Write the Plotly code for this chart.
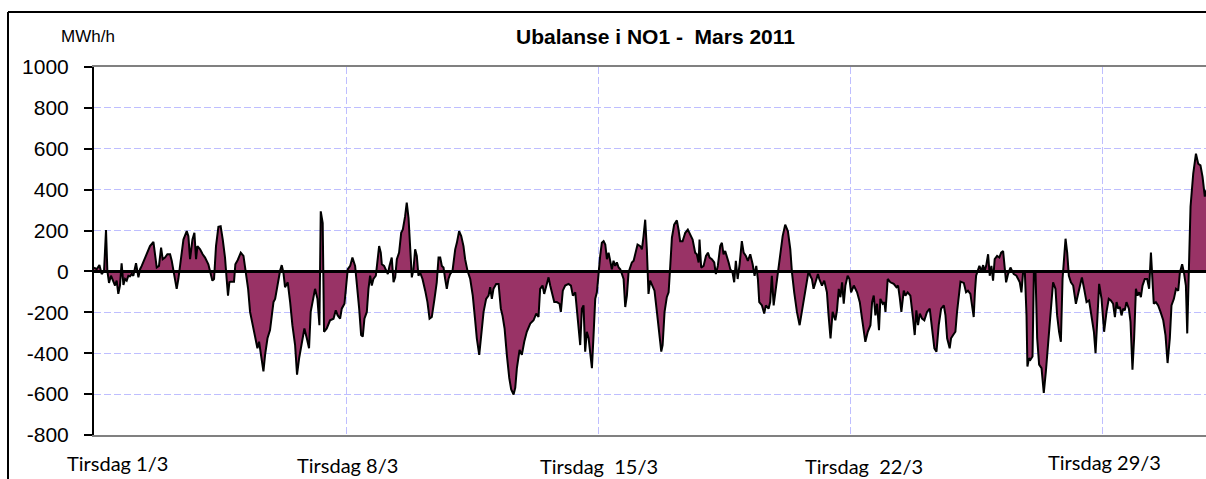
import plotly.graph_objects as go

# Hours since 1 March 2011 00:00 and imbalance values (MWh/h)
hours = [
0,1.8,3.6,5.1,6.7,8.0,8.9,10.0,11.3,12.9,14.0,15.1,16.2,17.3,18.4,19.6,20.7,21.8,22.9,24.0,
25.1,26.2,28.0,29.6,30.7,31.8,34.0,35.6,37.3,39.6,40.7,41.8,43.3,44.7,45.8,47.3,48.9,50.7,51.8,52.9,
54.0,55.1,56.2,57.8,59.6,61.8,62.9,64.0,65.6,66.9,68.0,68.9,70.7,72.4,74.0,76.2,77.8,78.9,80.0,81.3,
82.9,84.4,85.8,87.3,88.4,89.3,90.2,91.1,93.3,94.2,95.8,97.8,99.6,101.1,102.7,104.0,105.8,107.3,108.9,110.0,
111.1,112.2,112.9,114.0,115.6,117.3,118.4,119.6,120.7,121.8,124.0,
125.1,126.2,127.3,129.1,130.7,132.2,134.0,135.3,136.7,138.4,140.2,141.8,143.3,144.4,145.8,147.3,148.9,150.2,151.1,152.4,
153.3,155.1,157.3,159.6,161.1,162.4,164.0,165.1,166.9,167.8,169.1,170.7,172.2,174.0,175.1,176.7,178.0,179.1,180.2,181.8,
182.9,184.0,185.1,186.2,187.8,188.9,190.0,191.1,191.8,193.3,194.7,195.8,196.9,198.4,199.6,200.7,201.8,203.3,204.7,205.8,
207.3,208.4,209.6,210.7,211.8,212.9,214.0,215.1,216.2,217.3,218.9,220.7,222.2,223.6,225.1,226.9,228.4,229.6,230.7,231.8,
232.9,234.0,235.1,236.2,237.3,238.9,240.7,241.8,243.3,244.7,246.2,247.3,
248.9,250.7,252.4,254.0,255.1,256.7,258.0,259.6,261.3,262.9,264.0,265.1,266.2,268.0,269.6,271.1,272.2,273.6,275.1,276.7,
278.0,279.6,280.7,281.8,283.6,285.1,286.7,288.4,290.7,292.9,294.7,296.2,297.3,298.9,300.0,301.3,302.9,304.0,305.1,306.7,
308.4,310.2,311.1,312.4,314.0,316.2,317.8,319.1,320.7,321.8,322.9,324.0,325.1,326.2,327.3,328.4,329.6,330.7,331.8,332.9,
334.0,335.1,336.2,337.3,338.4,339.6,340.7,341.8,342.9,344.0,345.1,346.2,347.3,348.4,349.6,350.7,351.8,352.9,354.0,355.1,
356.2,357.3,358.4,359.6,360.7,362.2,364.0,365.1,366.2,367.3,
368.4,369.5,370.6,371.7,373.5,375.1,376.6,378.0,378.9,380.2,381.7,382.9,384.0,385.1,386.6,388.4,389.5,390.6,392.2,394.0,
395.7,397.3,398.9,400.6,401.7,402.9,403.5,404.6,406.2,407.8,409.1,410.2,411.7,413.3,414.4,415.7,417.3,418.4,419.5,420.6,
421.7,422.9,424.0,425.5,426.6,427.7,428.9,430.2,431.7,432.9,434.4,435.7,437.3,438.9,440.2,441.3,442.4,443.3,445.1,446.6,
447.7,449.5,450.6,451.7,452.9,454.0,455.5,457.3,458.9,460.6,462.4,464.0,465.1,466.6,468.4,470.2,471.7,473.3,474.6,476.2,
477.3,478.4,479.5,481.1,482.4,483.3,485.1,486.6,488.4,489.5,490.8,492.2,494.0,
495.1,496.3,497.4,498.5,499.6,500.7,502.2,503.4,504.5,506.3,508.5,510.3,511.8,514.0,515.6,517.4,518.5,519.6,520.7,521.8,
523.1,524.0,525.6,526.7,527.4,528.9,530.7,532.9,534.7,535.8,536.9,538.0,539.6,540.7,542.2,544.0,545.8,546.9,548.0,549.1,
550.3,551.8,553.3,555.1,556.9,558.5,560.0,561.4,562.9,564.5,566.3,567.4,568.5,570.2,571.1,572.5,574.0,575.1,576.2,577.4,
579.6,581.1,582.4,584.0,585.1,586.2,587.0,587.8,588.9,590.0,591.4,592.5,593.4,594.5,595.8,596.9,598.0,599.1,600.2,601.8,
603.3,604.5,605.8,606.7,607.8,609.1,610.7,611.8,612.9,
614.7,615.8,616.9,618.0,619.1,620.3,621.4,622.0,623.1,624.0,625.4,626.3,627.4,628.5,629.8,631.4,632.9,634.3,635.8,637.4,
639.1,640.7,641.8,643.1,644.3,645.4,646.5,647.4,648.5,649.6,651.0,652.5,654.3,655.4,656.9,658.3,659.8,661.4,663.1,664.7,
666.3,667.4,668.5,669.8,671.4,673.1,674.7,676.2,677.6,679.1,680.3,681.4,682.5,683.6,684.7,685.8,686.9,688.0,689.6,690.7,
692.0,693.1,694.3,695.4,696.5,697.6,698.7,700.2,701.8,703.1,704.3,705.1,706.2,707.6,709.1,710.7,712.5,714.0,715.4,716.9,
718.0,719.6,721.0,722.5,723.6,725.1,726.3,727.6,728.5,729.6,730.7,732.5,734.3,735.8,737.3,738.7,740.2,741.3,
]

values = [
19,11,31,-13,3,202,3,-56,-21,-45,-69,-45,-110,-69,40,-66,-37,-45,-21,-24,
-13,-21,40,-29,11,27,68,92,124,144,92,19,27,116,60,68,84,84,52,11,
-37,-85,-37,60,156,197,173,60,156,189,60,124,108,84,68,35,-5,-45,-37,124,
218,221,156,68,-37,-118,-53,-50,-50,35,56,92,76,8,-85,-198,-263,-327,-376,-344,
-392,-440,-489,-408,-327,-287,-215,-150,-134,-85,3,
31,-5,-77,-53,-150,-263,-360,-505,-424,-344,-279,-327,-376,-198,-150,-85,-134,-263,294,237,
-295,-279,-239,-231,-190,-215,-231,-182,-158,-69,11,27,68,27,-53,-182,-311,-319,-231,-198,
-85,-21,-69,-37,-21,60,124,92,35,27,3,-13,27,68,-53,-29,60,92,189,205,
269,337,261,108,-29,11,108,76,-21,-5,-37,-94,-150,-231,-223,-134,-53,68,68,27,
19,-37,-85,-37,-13,3,108,140,197,173,124,60,
3,-37,-118,-239,-327,-408,-327,-198,-134,-118,-77,-134,-85,-61,-61,-182,-215,-279,-408,-521,
-577,-602,-569,-473,-384,-408,-344,-295,-255,-239,-206,-223,-85,-69,-110,-69,-29,-69,-102,-150,
-150,-158,-198,-94,-69,-61,-69,-118,-102,-198,-295,-360,-182,-166,-392,-295,-327,-392,-473,-311,
-134,-102,3,76,140,148,132,60,92,44,11,52,27,44,19,11,-13,-37,-174,-118,
-5,19,44,52,92,132,124,108,173,253,
108,-110,-45,-61,-94,-198,-295,-392,-360,-198,-126,-102,27,165,229,250,205,148,148,189,
205,181,156,92,84,44,156,19,27,76,92,68,60,44,-13,27,124,140,84,100,
76,44,11,-5,-53,52,-37,35,148,92,76,52,84,35,-21,27,-37,-150,-166,-206,
-166,-182,-150,-21,-166,-102,-37,76,173,229,197,108,-5,-102,-198,-263,-198,-118,-69,3,
-21,-37,-85,-37,-13,-37,-69,-45,-102,-215,-327,-198,-239,
-190,-85,-126,-53,-158,-69,-21,-37,-102,-69,-102,-150,-231,-344,-295,-263,-150,-118,-215,-158,
-287,-134,-158,-150,-198,-37,-53,-61,-77,-69,-126,-198,-94,-118,-102,-118,-231,-311,-190,-263,
-206,-231,-239,-198,-182,-279,-376,-392,-263,-182,-166,-215,-327,-376,-327,-311,-295,-198,-134,-50,
-56,-102,-94,-110,-166,-223,-102,-21,3,27,3,31,3,27,84,-21,27,-45,60,76,
68,92,100,11,-53,-13,19,3,-13,
-21,-37,-53,-102,-5,-5,-215,-465,-424,-432,-416,-5,-5,-327,-456,-473,-594,-489,-360,-239,
-53,-85,-215,-295,-344,-37,92,160,92,-21,-53,-69,-158,-118,-69,-29,-85,-150,-142,-231,
-295,-400,-247,-61,-134,-295,-198,-134,-142,-158,-223,-150,-182,-174,-215,-182,-190,-150,-182,-247,
-481,-327,-85,-118,-102,-126,-69,-37,-37,-85,92,-5,-158,-150,-166,-198,-239,-311,-448,-327,
-166,-134,-85,-94,-5,35,-5,-69,-303,11,318,479,576,527,519,463,366,398,
]

week_hours = [0, 168, 336, 504, 672]
y_ticks = [-800, -600, -400, -200, 0, 200, 400, 600, 800, 1000]
y_tick_text = ["-800", "-600", "-400", "-200", "0", "200", "400", "600", "800", "1000"]
x_labels = ["Tirsdag 1/3", "Tirsdag 8/3", "Tirsdag\u00a0 15/3", "Tirsdag\u00a0 22/3", "Tirsdag 29/3"]
title_text = "Ubalanse i NO1 -  Mars 2011"
unit_text = "MWh/h"

W, H = 1206, 479
L, R, T, B = 94, 1206, 67, 435  # plot area in pixels


def px(xp):
    return (xp - L) / (R - L)


def py(yp):
    return (B - yp) / (B - T)


fig = go.Figure()
fig.add_trace(go.Scatter(
    x=hours, y=values, mode="lines",
    line=dict(color="black", width=2),
    fill="tozeroy", fillcolor="#993366",
    hoverinfo="x+y", showlegend=False,
))

grid_col = "#BEBEFF"
fig.update_layout(
    width=W, height=H,
    margin=dict(l=L, r=W - R, t=T, b=H - B),
    paper_bgcolor="white", plot_bgcolor="white",
    font=dict(family="Liberation Sans, Arial, sans-serif", color="black"),
    xaxis=dict(
        range=[0, 741.0], tickvals=week_hours, showticklabels=False, ticks="",
        showgrid=True, gridcolor=grid_col, griddash="7px,3px", gridwidth=1.2,
        showline=True, linecolor="#808080", linewidth=2, mirror=True,
        zeroline=False, fixedrange=True,
    ),
    yaxis=dict(
        range=[-800, 1000], tickvals=y_ticks, ticktext=y_tick_text,
        ticks="outside", ticklen=8, tickwidth=1.5, tickcolor="black",
        tickfont=dict(size=21, family="Liberation Sans, Arial, sans-serif", color="black"),
        ticklabelstandoff=11,
        showgrid=True, gridcolor=grid_col, griddash="7px,3px", gridwidth=1.2,
        showline=True, linecolor="black", linewidth=2,
        zeroline=False, fixedrange=True,
    ),
)

# zero reference line above the area
fig.add_shape(type="line", xref="paper", yref="y", x0=0, x1=1, y0=0, y1=0,
              line=dict(color="black", width=3), layer="above")
# outer chart frame: only its left and top edges fall inside the view
fig.add_shape(type="line", xref="paper", yref="paper",
              x0=px(8), x1=px(8), y0=py(500), y1=py(12),
              line=dict(color="black", width=2), layer="above")
fig.add_shape(type="line", xref="paper", yref="paper",
              x0=px(8), x1=px(1220), y0=py(12), y1=py(12),
              line=dict(color="black", width=2), layer="above")

fig.add_annotation(text="<b>" + title_text + "</b>", xref="paper", yref="paper",
                   x=px(655), y=py(37), xanchor="center", yanchor="middle", showarrow=False,
                   font=dict(size=21, family="Liberation Sans, Arial, sans-serif"))
fig.add_annotation(text=unit_text, xref="paper", yref="paper",
                   x=px(88), y=py(37), xanchor="center", yanchor="middle", showarrow=False,
                   font=dict(size=17, family="Liberation Sans, Arial, sans-serif"))

label_pos = [(117, 463), (347, 465), (599, 466), (864, 466), (1104, 462)]
for txt, (lx, ly) in zip(x_labels, label_pos):
    fig.add_annotation(text=txt, xref="paper", yref="paper", x=px(lx), y=py(ly),
                       xanchor="center", yanchor="middle", showarrow=False,
                       font=dict(size=20, family="Lato, Carlito, Calibri, sans-serif"))

fig.write_html(
    "out.html",
    config={"displayModeBar": False},
    post_script="document.body.style.margin='0';document.documentElement.style.overflow='hidden';",
)
